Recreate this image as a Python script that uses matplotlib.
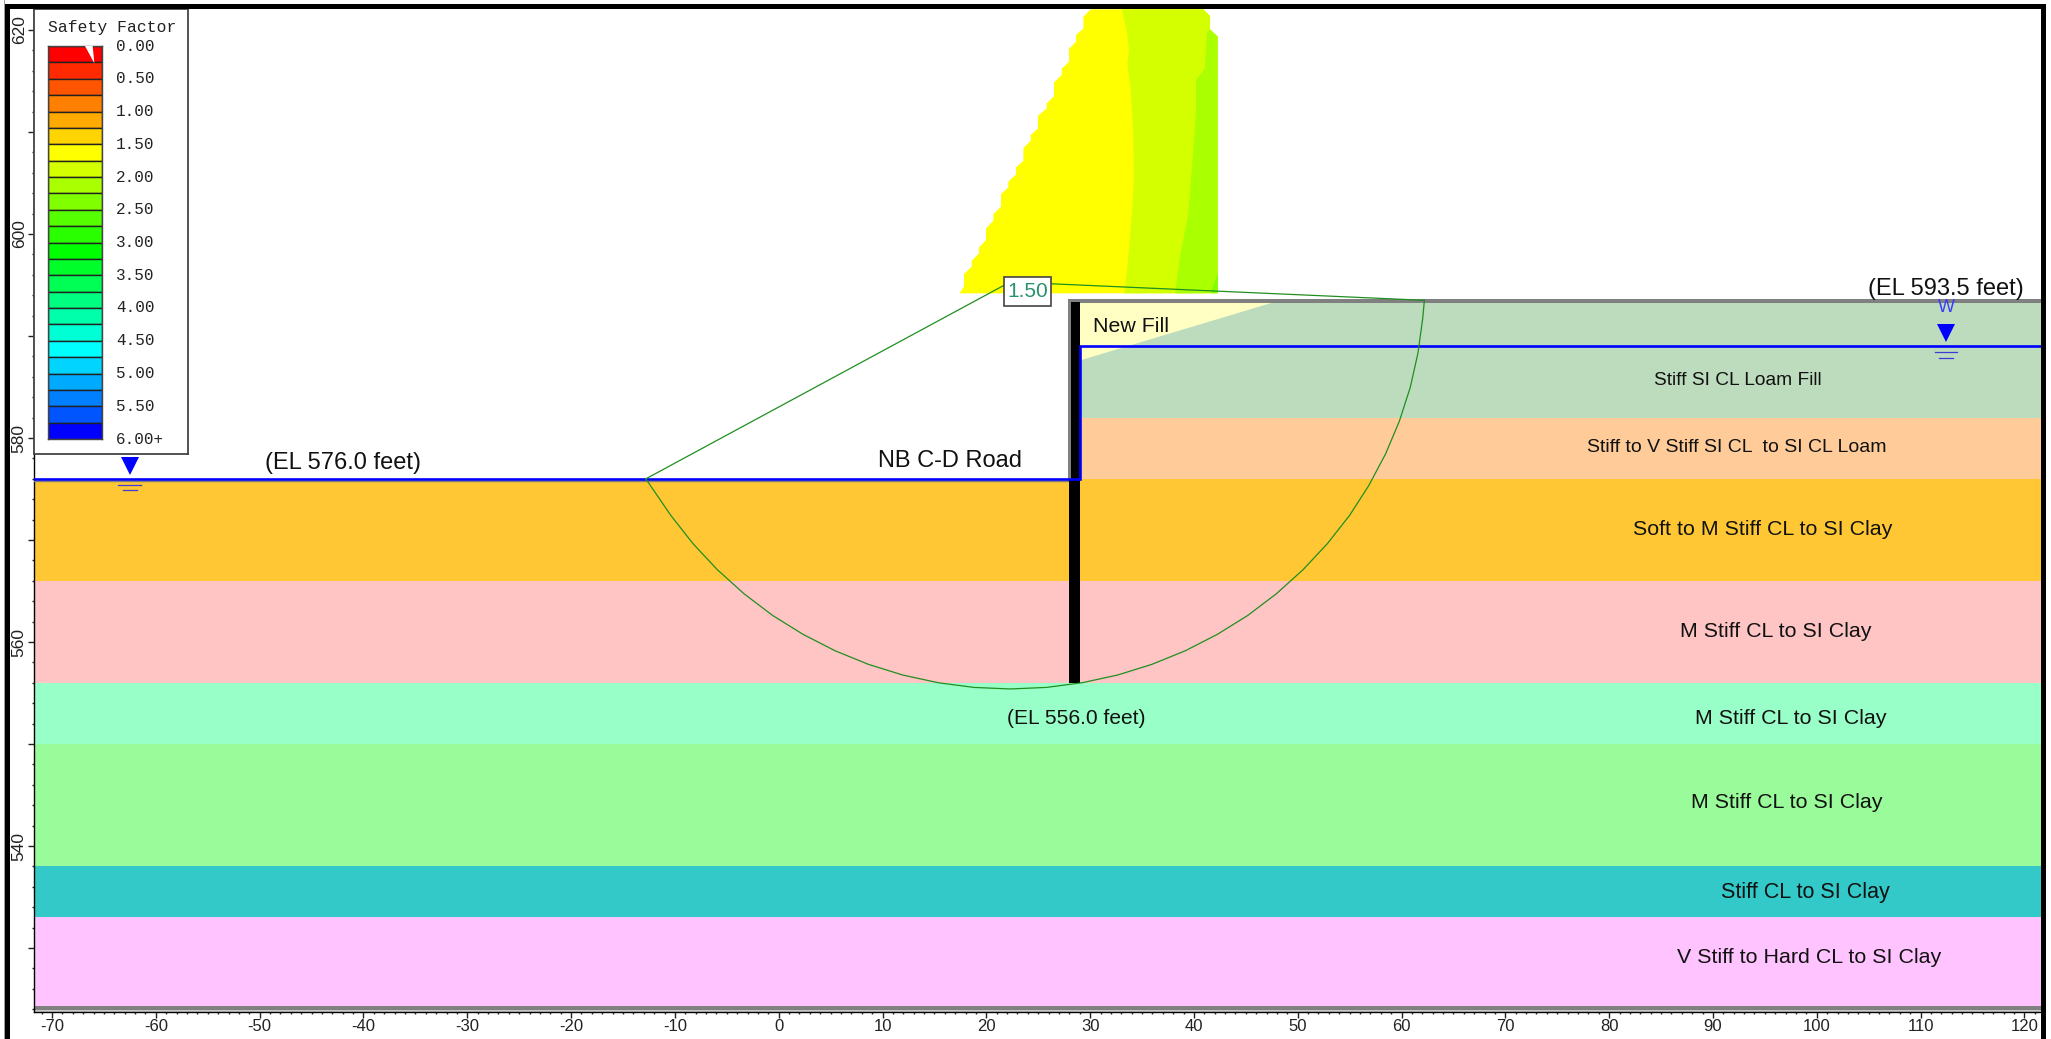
import matplotlib
matplotlib.use("Agg")
import matplotlib.pyplot as plt
from matplotlib.patches import Rectangle, Polygon

W, H = 2051, 1039
plt.rcParams["font.family"] = ["Liberation Sans", "DejaVu Sans"]

# soil layers, feet
layer_tops = [593.5, 582.0, 576.0, 566.0, 556.0, 550.0, 538.0, 533.0]
layer_bottoms = [582.0, 576.0, 566.0, 556.0, 550.0, 538.0, 533.0, 524.2]
layer_lefts = [29.0, 29.0, -71.7, -71.7, -71.7, -71.7, -71.7, -71.7]
layer_colors = ["#BDDCBD", "#FFCC99", "#FFC733", "#FFC4C4", "#99FFC8", "#99FB99", "#33C9C9", "#FFC4FF"]
layer_names = ["Stiff SI CL Loam Fill", "Stiff to V Stiff SI CL  to SI CL Loam", "Soft to M Stiff CL to SI Clay",
               "M Stiff CL to SI Clay", "M Stiff CL to SI Clay", "M Stiff CL to SI Clay",
               "Stiff CL to SI Clay", "V Stiff to Hard CL to SI Clay"]
layer_label_x = [92.42, 92.32, 94.83, 96.08, 97.48, 97.13, 98.87, 99.25]
layer_label_y = [585.63, 579.05, 571.0, 561.0, 552.5, 544.3, 535.45, 529.05]
layer_label_size = [13.8, 14, 15.4, 15.4, 15.4, 15.4, 15.5, 15.4]

fill_x = [29.0, 48.3, 29.0]
fill_y = [593.5, 593.5, 587.6]

# water table
water_x = [-71.7, 29.0, 29.0, 121.6]
water_y = [576.0, 576.0, 589.0, 589.0]

# failure surface
slip_x = [-12.8, -10.39, -8.26, -5.91, -3.35, -0.59, 2.35, 5.44, 8.65, 11.97, 15.37, 18.82, 22.3, 25.78, 29.23,
          32.63, 35.95, 39.16, 42.25, 45.19, 47.95, 50.51, 52.86, 54.99, 56.85, 58.46, 59.79, 60.84, 61.59, 62.05, 62.2]
slip_y = [576.0, 572.41, 569.65, 567.09, 564.74, 562.61, 560.75, 559.14, 557.81, 556.76, 556.01, 555.55, 555.4, 555.55, 556.01,
          556.76, 557.81, 559.14, 560.75, 562.61, 564.74, 567.09, 569.65, 572.41, 575.35, 578.44, 581.65, 584.97, 588.37, 591.82, 593.5]
center_x = [-12.8, 22.3, 62.2]
center_y = [576.0, 595.3, 593.5]

# safety factor grid, stepped left edge
stair_x = [17.4, 17.85, 17.85, 18.59, 18.59, 19.30, 19.30, 19.97, 19.97, 20.68, 20.68, 21.42, 21.42, 22.12, 22.12, 22.86,
           22.86, 23.57, 23.57, 24.27, 24.27, 24.98, 24.98, 25.82, 25.82, 26.52, 26.52, 27.26, 27.26, 27.97, 27.97,
           28.64, 28.64, 29.35, 29.35, 30.05]
stair_y = [594.18, 594.84, 596.08, 596.80, 597.38, 598.10, 598.69, 599.41, 600.55, 601.31, 601.96, 602.68, 603.92, 604.57,
           605.13, 605.85, 606.53, 607.19, 608.43, 609.15, 609.70, 610.36, 611.60, 612.32, 612.81, 613.53, 614.87, 615.59,
           616.18, 616.89, 618.14, 618.86, 619.51, 620.16, 621.3, 622.03]
right_x = [40.91, 41.55, 41.55, 42.29, 42.29]
right_y = [622.03, 621.37, 620.06, 619.35, 594.2]

lime_x = [33.04, 33.52, 33.75, 33.59, 33.91, 34.16, 34.23, 34.0, 33.68, 33.36, 33.27]
lime_y = [622.03, 620.0, 618.04, 616.73, 614.12, 609.87, 605.29, 601.7, 597.78, 594.67, 594.18]
green_x = [41.55, 41.23, 41.07, 40.2, 40.2, 39.94, 39.46, 38.66, 38.18]
green_y = [620.06, 619.67, 616.24, 615.1, 612.16, 608.23, 602.02, 597.78, 594.18]
corner_x = [42.29, 41.61, 42.29]
corner_y = [596.14, 594.2, 594.2]

# legend
band_colors = ["#ff0000", "#ff2a00", "#ff5500", "#ff8000", "#ffaa00", "#ffd400",
               "#ffff00", "#d4ff00", "#aaff00", "#80ff00", "#55ff00", "#2aff00",
               "#00ff00", "#00ff2a", "#00ff55", "#00ff80", "#00ffaa", "#00ffd4",
               "#00ffff", "#00d4ff", "#00aaff", "#0080ff", "#0055ff", "#0000ff"]
band_labels = ["0.00", "0.50", "1.00", "1.50", "2.00", "2.50", "3.00", "3.50", "4.00", "4.50", "5.00", "5.50", "6.00+"]


def px_axes(left, top, right, bottom):
    return [left / W, 1 - bottom / H, (right - left) / W, (bottom - top) / H]


fig = plt.figure(figsize=(W / 100, H / 100), dpi=100, facecolor="white")
ax = fig.add_axes(px_axes(34.4, 9, 2041, 1012))
ax.set_xlim(-71.7, 121.6)
ax.set_ylim(523.73, 622.06)

for top, bottom, left, c in zip(layer_tops, layer_bottoms, layer_lefts, layer_colors):
    ax.fill_between([left, 121.6], bottom, top, color=c, lw=0, zorder=1)
ax.fill(fill_x, fill_y, color="#FFFFC4", lw=0, zorder=1.5)
ax.axhspan(523.73, 523.95, color="#c8c8c8", lw=0, zorder=1.5)
ax.axhspan(523.95, 524.35, color="#808080", lw=0, zorder=1.5)

# contour zone
ax.fill(stair_x + right_x, stair_y + right_y, color="#ffff00", lw=0, zorder=2)
ax.fill(lime_x + right_x[::-1], lime_y + right_y[::-1], color="#d4ff00", lw=0, zorder=2.1)
ax.fill(green_x + [42.29, 42.29], green_y + [594.2, 619.35], color="#aaff00", lw=0, zorder=2.2)
ax.fill(corner_x, corner_y, color="#80ff00", lw=0, zorder=2.3)

# ground and wall
ax.plot([121.6, 28.1, 28.1], [593.43, 593.43, 576.0], color="#808080", lw=2.9, solid_joinstyle="miter", zorder=3)
ax.plot([-71.7, 28.0], [575.8, 575.8], color="#808080", lw=1, zorder=3)
ax.add_patch(Rectangle((27.97, 556.0), 1.06, 20.0, color="black", lw=0, zorder=3.2))
ax.add_patch(Rectangle((28.18, 576.0), 0.82, 17.3, color="black", lw=0, zorder=3.2))
ax.plot(water_x, water_y, color="#0000ff", lw=1.9, solid_joinstyle="miter", zorder=3.5)

for wx, wy in [(112.45, 589.0), (-62.5, 576.0)]:
    ax.plot([wx], [wy + 1.25], marker="v", ms=12.5, color="#0000ff", mew=0, zorder=4)
    ax.plot([wx - 1.1, wx + 1.1], [wy - 0.57, wy - 0.57], color="#3c3cdc", lw=0.9, zorder=4)
    ax.plot([wx - 0.65, wx + 0.65], [wy - 1.12, wy - 1.12], color="#3c3cdc", lw=0.9, zorder=4)
ax.text(112.45, 592.75, "W", color="#3c3cff", fontsize=13, ha="center", va="center", zorder=4)

ax.plot(slip_x, slip_y, color="#1f8f1f", lw=0.9, zorder=5)
ax.plot(center_x, center_y, color="#1f8f1f", lw=0.9, zorder=5)
ax.add_patch(Rectangle((21.7, 592.94), 4.53, 2.84, fc="white", ec="#444444", lw=1.2, zorder=6))
ax.text(23.99, 594.34, "1.50", color="#2a9070", fontsize=15, ha="center", va="center", zorder=7)

# text
for name, lx, ly, fs in zip(layer_names, layer_label_x, layer_label_y, layer_label_size):
    ax.text(lx, ly, name, fontsize=fs, color="#111111", ha="center", va="center", zorder=6)
ax.text(-41.97, 577.6, "(EL 576.0 feet)", fontsize=17, color="#111111", ha="center", va="center", zorder=6)
ax.text(16.46, 577.7, "NB C-D Road", fontsize=17, color="#111111", ha="center", va="center", zorder=6)
ax.text(33.94, 590.93, "New Fill", fontsize=15.4, color="#111111", ha="center", va="center", zorder=6)
ax.text(112.45, 594.65, "(EL 593.5 feet)", fontsize=17, color="#111111", ha="center", va="center", zorder=6)
ax.text(28.69, 552.55, "(EL 556.0 feet)", fontsize=15.1, color="#111111", ha="center", va="center", zorder=6)

# axes
for s in ["top", "right"]:
    ax.spines[s].set_visible(False)
ax.spines["left"].set_linewidth(1.0)
ax.spines["bottom"].set_linewidth(1.0)
ax.set_xticks(list(range(-70, 121, 10)))
ax.set_xticklabels([str(v) for v in range(-70, 121, 10)])
ax.set_xticks([v for v in range(-71, 122) if v % 10 != 0], minor=True)
ax.set_yticks(list(range(530, 621, 10)))
ax.set_yticklabels([str(v) if v % 20 == 0 else "" for v in range(530, 621, 10)], rotation=90, va="center")
ax.set_yticks([v for v in range(524, 622, 2) if v % 10 != 0], minor=True)
ax.tick_params(axis="x", which="major", length=4, width=1, labelsize=12, pad=1, colors="#222222")
ax.tick_params(axis="x", which="minor", length=1.6, width=1, colors="#222222")
ax.tick_params(axis="y", which="major", length=4, width=1, labelsize=12.5, pad=1.5, colors="#222222")
ax.tick_params(axis="y", which="minor", length=1.8, width=1, colors="#222222")

# legend box
lg = fig.add_axes(px_axes(34.4, 9, 188, 454), zorder=10)
lg.set_xticks([])
lg.set_yticks([])
for s in lg.spines.values():
    s.set_linewidth(1.3)
    s.set_color("#444444")
bar = fig.add_axes(px_axes(48, 46, 102, 439), zorder=11)
bar.barh(range(24), [1] * 24, left=0, height=1, align="edge", color=band_colors, edgecolor="#222222", lw=1)
bar.set_xlim(0, 1)
bar.set_ylim(24, 0)
bar.set_xticks([])
bar.set_yticks([])
for s in bar.spines.values():
    s.set_linewidth(1.0)
    s.set_color("#444444")
bar.add_patch(Polygon([(0.685, 0), (0.827, 0), (0.858, 1.05)], color="white", lw=0, zorder=5))
for i, lab in enumerate(band_labels):
    bar.text(1.26, i * 2, lab, family="Liberation Mono", fontsize=11.5, color="#222222",
             va="center", ha="left", clip_on=False)
bar.text(0, -1.15, "Safety Factor", family="Liberation Mono", fontsize=11.8, color="#222222",
         va="center", ha="left", clip_on=False)

# screen frame
for l, t, r, b, c in [(4, 0, 5, H, "#a0a0a0"), (5, 4, 10, H, "black"), (5, 4, 2045.5, 9, "black"),
                      (2041, 4, 2045.5, H, "black")]:
    fig.add_artist(Rectangle((l / W, 1 - b / H), (r - l) / W, (b - t) / H, transform=fig.transFigure,
                             color=c, lw=0, zorder=20))

fig.savefig("out.png", dpi=100)
